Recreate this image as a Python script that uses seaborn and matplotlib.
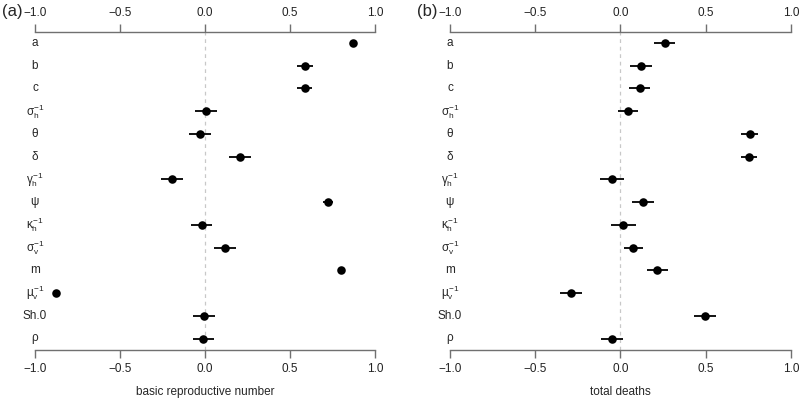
import matplotlib
matplotlib.use('Agg')
import matplotlib.pyplot as plt
import pandas as pd
import seaborn as sns

# Parameter labels (top to bottom)
params = ['a', 'b', 'c', r'$\sigma_h^{-1}$', r'$\theta$', r'$\delta$', r'$\gamma_h^{-1}$',
          r'$\psi$', r'$\kappa_h^{-1}$', r'$\sigma_v^{-1}$', 'm', r'$\mu_v^{-1}$', 'Sh.0', r'$\rho$']

# (a) basic reproductive number
r0_est = [0.868, 0.588, 0.586, 0.006, -0.03, 0.206, -0.192, 0.725, -0.02, 0.118, 0.80, -0.875, -0.006, -0.01]
r0_err = [0.0, 0.045, 0.045, 0.067, 0.064, 0.064, 0.065, 0.03, 0.06, 0.064, 0.02, 0.0, 0.065, 0.063]

# (b) total deaths
td_est = [0.26, 0.121, 0.114, 0.047, 0.759, 0.754, -0.049, 0.131, 0.018, 0.076, 0.217, -0.29, 0.495, -0.049]
td_err = [0.061, 0.067, 0.061, 0.059, 0.049, 0.049, 0.069, 0.065, 0.072, 0.056, 0.062, 0.062, 0.065, 0.062]

sns.set_theme(style='white')
plt.rcParams['font.family'] = ['Liberation Sans', 'DejaVu Sans']
plt.rcParams['mathtext.fontset'] = 'custom'
plt.rcParams['mathtext.rm'] = 'Liberation Sans'
plt.rcParams['mathtext.it'] = 'Liberation Sans'
plt.rcParams['mathtext.sf'] = 'Liberation Sans'

fig = plt.figure(figsize=(8, 4), dpi=100)
ax1 = fig.add_axes([0.04375, 0.125, 0.425, 0.796])
ax2 = fig.add_axes([0.5625, 0.125, 0.426, 0.796])

panels = [(ax1, r0_est, r0_err, 'basic reproductive number', '(a)'),
          (ax2, td_est, td_err, 'total deaths', '(b)')]

for ax, est, err, xlab, tag in panels:
    df = pd.DataFrame({'row': range(len(params)), 'est': est, 'err': err})
    ax.axvline(0, color='#c8c8c8', lw=0.9, ls=(0, (3, 3)), zorder=0)
    ax.hlines(df['row'], df['est'] - df['err'], df['est'] + df['err'], color='black', lw=1.3)
    sns.scatterplot(data=df, x='est', y='row', ax=ax, color='black', s=38,
                    edgecolor='black', linewidth=0, zorder=3)
    for i, lab in enumerate(params):
        ax.text(-1.0, i, lab, ha='center', va='center', fontsize=8.5, clip_on=False)
    ax.set_xlim(-1, 1)
    ax.set_ylim(len(params) - 0.5, -0.5)
    ax.set_yticks([])
    ax.set_ylabel('')
    ax.set_xlabel(xlab, fontsize=8.5, labelpad=8)
    ax.set_xticks([-1.0, -0.5, 0.0, 0.5, 1.0])
    ax.set_xticklabels(['\u22121.0', '\u22120.5', '0.0', '0.5', '1.0'])
    ax.tick_params(axis='x', top=True, labeltop=True, bottom=True, labelbottom=True,
                   direction='out', length=6, width=1, color='#707070',
                   labelsize=8.5, pad=3, labelcolor='#222222')
    for side in ['left', 'right']:
        ax.spines[side].set_visible(False)
    for side in ['top', 'bottom']:
        ax.spines[side].set_color('#707070')
        ax.spines[side].set_linewidth(1)
    ax.set_facecolor('white')
    ax.text(-1.075, 1.062, tag, transform=ax.get_xaxis_transform(), ha='right', va='center',
            fontsize=12, clip_on=False)

fig.savefig('out.png', dpi=100, facecolor='white')
